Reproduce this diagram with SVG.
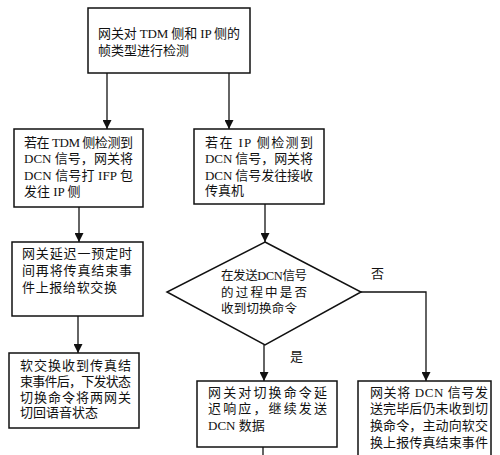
<svg xmlns="http://www.w3.org/2000/svg" width="500" height="455" viewBox="0 0 500 455">
<defs>
<marker id="arr" viewBox="0 0 10 10" refX="10" refY="5" markerWidth="9" markerHeight="9" markerUnits="userSpaceOnUse" orient="auto">
<path d="M0,0 L10,5 L0,10 Z" fill="#111"/>
</marker>
<style>
.box{fill:#fff;stroke:#111;stroke-width:1.5}
.t{font-family:"Liberation Serif","Noto Sans CJK SC",serif;font-size:13px;fill:#111}
.s{font-size:12.5px}
.c{fill:none;stroke:#111;stroke-width:1.3}
</style>
</defs>
<rect width="500" height="455" fill="#fff"/>
<g id="connectors">
<line class="c" x1="107" y1="73" x2="107" y2="129" marker-end="url(#arr)"/>
<line class="c" x1="229" y1="73" x2="229" y2="129" marker-end="url(#arr)"/>
<line class="c" x1="79" y1="207" x2="79" y2="242" marker-end="url(#arr)"/>
<line class="c" x1="78" y1="316" x2="78" y2="353" marker-end="url(#arr)"/>
<line class="c" x1="265" y1="204" x2="265" y2="242" marker-end="url(#arr)"/>
<line class="c" x1="264" y1="345" x2="264" y2="381" marker-end="url(#arr)"/>
<polyline class="c" points="361,292 426,292 426,381" marker-end="url(#arr)"/>
<line class="c" x1="263" y1="447" x2="263" y2="455"/>
<text class="t" x="290" y="361">是</text>
<text class="t" x="371" y="278">否</text>
</g>
<g id="n1">
<rect class="box" x="88" y="8" width="162" height="65"/>
<text class="t" x="98" y="38" textLength="142" lengthAdjust="spacing">网关对 TDM 侧和 IP 侧的</text>
<text class="t" x="98" y="55">帧类型进行检测</text>
</g>
<g id="n2">
<rect class="box" x="14" y="129" width="129" height="78"/>
<text class="t" x="24" y="147" textLength="109" lengthAdjust="spacing">若在 TDM 侧检测到</text>
<text class="t" x="24" y="163" textLength="109" lengthAdjust="spacing">DCN 信号，网关将</text>
<text class="t" x="24" y="180" textLength="109" lengthAdjust="spacing">DCN 信号打 IFP 包</text>
<text class="t" x="24" y="196">发往 IP 侧</text>
</g>
<g id="n3">
<rect class="box" x="194" y="129" width="130" height="75"/>
<text class="t" x="205" y="147" textLength="108" lengthAdjust="spacing">若在 IP 侧检测到</text>
<text class="t" x="205" y="163" textLength="108" lengthAdjust="spacing">DCN 信号，网关将</text>
<text class="t" x="205" y="180" textLength="108" lengthAdjust="spacing">DCN 信号发往接收</text>
<text class="t" x="205" y="195">传真机</text>
</g>
<g id="n4">
<rect class="box" x="12" y="242" width="131" height="74"/>
<text class="t" x="22" y="258" textLength="110" lengthAdjust="spacing">网关延迟一预定时</text>
<text class="t" x="22" y="275" textLength="110" lengthAdjust="spacing">间再将传真结束事</text>
<text class="t" x="22" y="292" textLength="95" lengthAdjust="spacing">件上报给软交换</text>
</g>
<g id="n5">
<polygon class="box" points="265,242 361,292 265,345 167,292"/>
<text class="t s" x="221" y="280" textLength="86" lengthAdjust="spacing">在发送DCN信号</text>
<text class="t s" x="221" y="297" textLength="86" lengthAdjust="spacing">的过程中是否</text>
<text class="t s" x="221" y="313" textLength="76" lengthAdjust="spacing">收到切换命令</text>
</g>
<g id="n6">
<rect class="box" x="9" y="353" width="130" height="75"/>
<text class="t" x="20" y="370" textLength="111" lengthAdjust="spacing">软交换收到传真结</text>
<text class="t" x="20" y="386" textLength="111" lengthAdjust="spacing">束事件后，下发状态</text>
<text class="t" x="20" y="402" textLength="111" lengthAdjust="spacing">切换命令将两网关</text>
<text class="t" x="20" y="417" textLength="78" lengthAdjust="spacing">切回语音状态</text>
</g>
<g id="n7">
<rect class="box" x="197" y="381" width="140" height="66"/>
<text class="t" x="208" y="397" textLength="119" lengthAdjust="spacing">网关对切换命令延</text>
<text class="t" x="208" y="413" textLength="119" lengthAdjust="spacing">迟响应，继续发送</text>
<text class="t" x="208" y="430">DCN 数据</text>
</g>
<g id="n8">
<rect class="box" x="358" y="381" width="133" height="80"/>
<text class="t" x="370" y="397" textLength="118" lengthAdjust="spacing">网关将 DCN 信号发</text>
<text class="t" x="370" y="413" textLength="118" lengthAdjust="spacing">送完毕后仍未收到切</text>
<text class="t" x="370" y="430" textLength="118" lengthAdjust="spacing">换命令，主动向软交</text>
<text class="t" x="370" y="447" textLength="118" lengthAdjust="spacing">换上报传真结束事件</text>
</g>
</svg>
